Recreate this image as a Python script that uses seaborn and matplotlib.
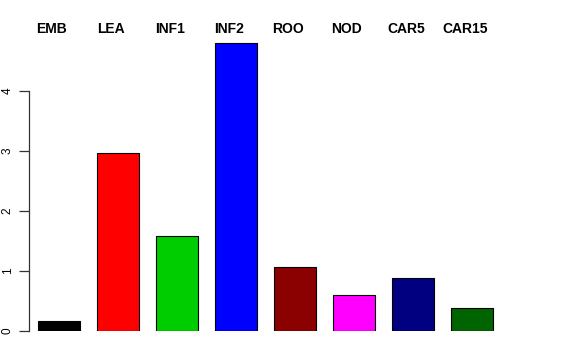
import matplotlib
matplotlib.use("Agg")
import matplotlib.pyplot as plt
import matplotlib.transforms as mtrans
import seaborn as sns
import pandas as pd

categories = ["EMB", "LEA", "INF1", "INF2", "ROO", "NOD", "CAR5", "CAR15"]
values = [0.17, 2.97, 1.58, 4.80, 1.06, 0.60, 0.88, 0.39]
colors = ["#000000", "#FF0000", "#00CD00", "#0000FF", "#8B0000", "#FF00FF", "#000080", "#006400"]
yticks = [0, 1, 2, 3, 4]

sns.set_style("white")
plt.rcParams["font.family"] = ["Liberation Sans", "DejaVu Sans"]
plt.rcParams["text.color"] = "black"
plt.rcParams["ytick.color"] = "black"
plt.rcParams["ytick.labelcolor"] = "black"

W, H = 576, 360
fig = plt.figure(figsize=(W / 100, H / 100), dpi=100)
left_px, right_px = 29, 545
bottom_px, top_px = 331, 31
ax = fig.add_axes([left_px / W, 1 - bottom_px / H, (right_px - left_px) / W, (bottom_px - top_px) / H])

df = pd.DataFrame({"cat": categories, "val": values})
sns.barplot(data=df, x="cat", y="val", hue="cat", palette=colors, legend=False,
            width=0.71, edgecolor="black", linewidth=0.8, saturation=1, ax=ax)

step = 59.0
x0 = -(59 - left_px) / step
ax.set_xlim(x0, x0 + (right_px - left_px) / step)
ax.set_ylim(0, 5)

for s in ["top", "right", "bottom"]:
    ax.spines[s].set_visible(False)
ax.spines["left"].set_bounds(0, 4)
ax.spines["left"].set_color("#333333")
ax.spines["left"].set_linewidth(0.9)
ax.set_yticks(yticks)
ax.set_yticklabels([str(t) for t in yticks], rotation=90, va="center", fontsize=8.5, color="black")
ax.tick_params(axis="y", direction="out", length=7, width=0.9, color="#333333", pad=4, left=True)
ax.set_xticks([])
ax.set_xlabel("")
ax.set_ylabel("")

trans = mtrans.blended_transform_factory(ax.transData, fig.transFigure)
for i, c in enumerate(categories):
    ax.text(i - 0.12, 1 - 29 / H, c, transform=trans,
            ha="center", va="center", fontsize=10, fontweight="bold", color="black")

fig.savefig("out.png", dpi=100)
